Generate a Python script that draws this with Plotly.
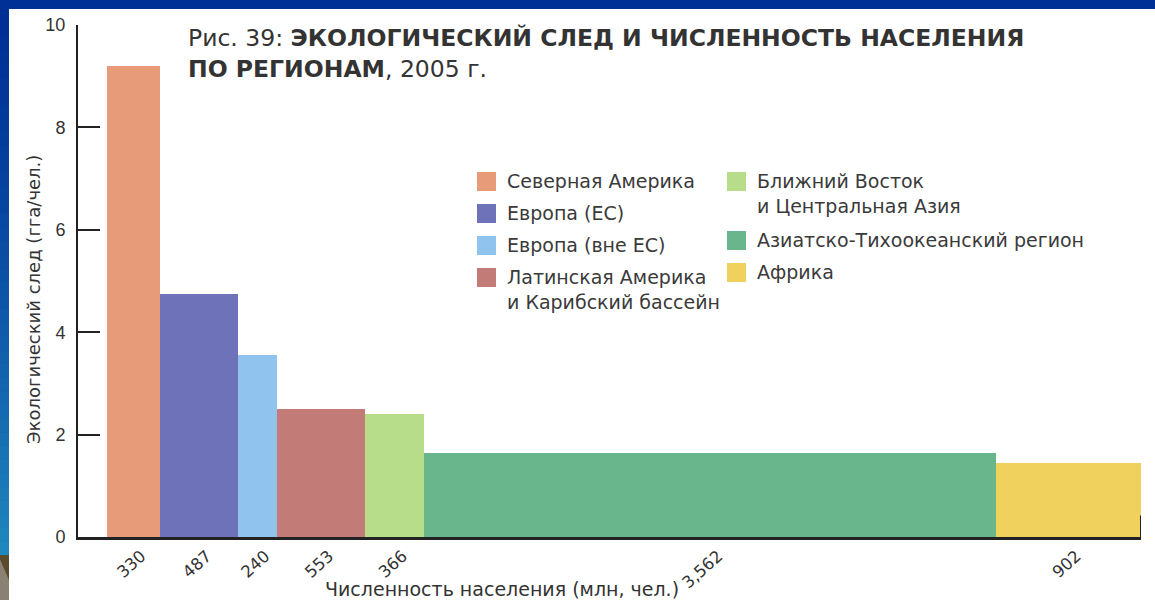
import plotly.graph_objects as go

# Regions, population (millions) and per-capita ecological footprint (gha/person), 2005
regions = [
    "Северная Америка",
    "Европа (ЕС)",
    "Европа (вне ЕС)",
    "Латинская Америка<br>и Карибский бассейн",
    "Ближний Восток<br>и Центральная Азия",
    "Азиатско-Тихоокеанский регион",
    "Африка",
]
population = [330, 487, 240, 553, 366, 3562, 902]
footprint = [9.2, 4.75, 3.55, 2.5, 2.4, 1.65, 1.45]
colors = ["#E89B79", "#6E72B8", "#90C4EE", "#C27B77", "#B7DD8A", "#69B58C", "#F1D15D"]
pop_labels = [f"{p:,}" for p in population]

y_ticks = [0, 2, 4, 6, 8, 10]

# Bars are placed edge to edge: each one is as wide as its population
starts = []
acc = 0
for p in population:
    starts.append(acc)
    acc += p
total_pop = acc
centers = [s + p / 2 for s, p in zip(starts, population)]

W, H = 1155, 600
L, R, T, B = 78, 14, 25, 63
x_lo = -180

WIDE = "DejaVu Sans, Verdana, sans-serif"
ARIAL = "Liberation Sans, Arial, sans-serif"


def px(xp):
    return (xp - L) / (W - L - R)


def py(yp):
    return (H - B - yp) / (H - B - T)


fig = go.Figure()
fig.add_trace(go.Bar(
    x=centers,
    y=footprint,
    width=population,
    base=0,
    marker=dict(color=colors, line=dict(width=0)),
    hovertext=[r.replace("<br>", " ") for r in regions],
    showlegend=False,
))

shapes = []
annotations = []

# Frame: blue border strips around a white sheet
shapes.append(dict(type="rect", xref="paper", yref="paper", layer="below",
                   x0=px(9), x1=px(W + 5), y0=py(H + 5), y1=py(9),
                   fillcolor="white", line=dict(width=0)))
steps = 40
top_c = (0, 48, 150)
bot_c = (30, 135, 190)
for i in range(steps):
    y0p = 9 + i * (546 / steps)
    y1p = 9 + (i + 1) * (546 / steps)
    f = i / (steps - 1)
    c = tuple(int(top_c[k] + (bot_c[k] - top_c[k]) * f ** 1.3) for k in range(3))
    shapes.append(dict(type="rect", xref="paper", yref="paper", layer="below",
                       x0=px(-2), x1=px(9), y0=py(y1p + 0.5), y1=py(y0p),
                       fillcolor="rgb(%d,%d,%d)" % c, line=dict(width=0)))
shapes.append(dict(type="rect", xref="paper", yref="paper", layer="below",
                   x0=px(-2), x1=px(9), y0=py(H + 5), y1=py(555),
                   fillcolor="#8A8172", line=dict(width=0)))
shapes.append(dict(type="path", xref="paper", yref="paper", layer="below",
                   path="M %f,%f L %f,%f L %f,%f Z" % (px(-2), py(555), px(9), py(555), px(9), py(580)),
                   fillcolor="#5B4A2C", line=dict(width=0)))

# Small closing tick at the right end of the x axis
shapes.append(dict(type="line", xref="x", yref="y",
                   x0=total_pop, x1=total_pop, y0=0, y1=0.42,
                   line=dict(color="#222222", width=2)))

# Title
annotations.append(dict(
    xref="paper", yref="paper", x=px(186), y=py(22), xanchor="left", yanchor="top",
    align="left", showarrow=False,
    text="Рис. 39: <b>ЭКОЛОГИЧЕСКИЙ СЛЕД И ЧИСЛЕННОСТЬ НАСЕЛЕНИЯ</b><br><b>ПО РЕГИОНАМ</b>, 2005 г.",
    font=dict(family=WIDE, size=23.5, color="#333333"),
))

# Legend in two columns
legend_pos = [
    (477, 181), (477, 213), (477, 245), (477, 277),
    (727, 181), (727, 240), (727, 272),
]
for (lx, ly), name, col in zip(legend_pos, regions, colors):
    shapes.append(dict(type="rect", xref="paper", yref="paper",
                       x0=px(lx), x1=px(lx + 19), y0=py(ly + 10), y1=py(ly - 9),
                       fillcolor=col, line=dict(width=0)))
    annotations.append(dict(
        xref="paper", yref="paper", x=px(lx + 28), y=py(ly - 13),
        xanchor="left", yanchor="top", align="left", showarrow=False,
        text=name,
        font=dict(family=WIDE, size=19, color="#3a3a3a"),
    ))

# Axis titles
annotations.append(dict(
    xref="paper", yref="paper", x=px(33), y=py(300), textangle=-90,
    xanchor="center", yanchor="middle", showarrow=False,
    text="Экологический след (гга/чел.)",
    font=dict(family=WIDE, size=18, color="#333333"),
))
annotations.append(dict(
    xref="paper", yref="paper", x=px(502), y=py(589),
    xanchor="center", yanchor="middle", showarrow=False,
    text="Численность населения (млн, чел.)",
    font=dict(family=WIDE, size=19, color="#333333"),
))

fig.update_layout(
    width=W, height=H,
    margin=dict(l=L, r=R, t=T, b=B, pad=0, autoexpand=False),
    paper_bgcolor="#003096",
    plot_bgcolor="white",
    bargap=0,
    shapes=shapes,
    annotations=annotations,
    xaxis=dict(
        range=[x_lo, total_pop],
        tickvals=centers,
        ticktext=pop_labels,
        tickangle=-42,
        ticks="",
        ticklabelshift=8,
        showgrid=False,
        zeroline=False,
        showline=True,
        linecolor="#222222",
        linewidth=3,
        automargin=False,
        tickfont=dict(family=WIDE, size=16.5, color="#333333"),
        fixedrange=True,
    ),
    yaxis=dict(
        range=[0, 10],
        tickvals=y_ticks,
        ticks="inside",
        ticklen=22,
        tickwidth=2,
        tickcolor="#222222",
        showgrid=False,
        zeroline=False,
        showline=True,
        linecolor="#222222",
        linewidth=2,
        ticklabelstandoff=7,
        automargin=False,
        tickfont=dict(family=ARIAL, size=18, color="#333333"),
        fixedrange=True,
    ),
    showlegend=False,
)

fig.write_html("out.html")
